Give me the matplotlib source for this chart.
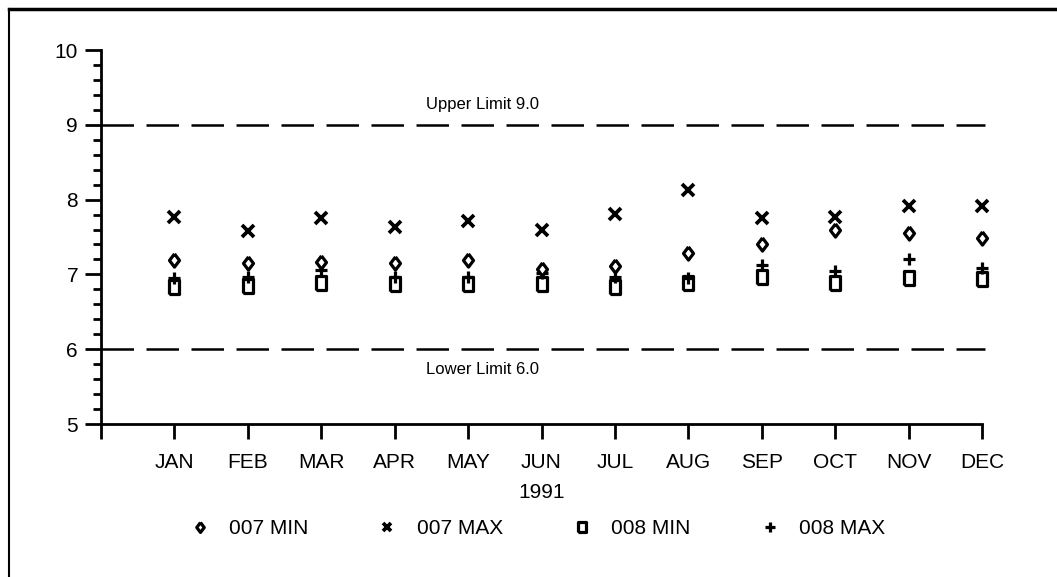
import matplotlib
matplotlib.use("Agg")
import matplotlib.pyplot as plt
from matplotlib.lines import Line2D
from matplotlib.ticker import MultipleLocator, FixedLocator

plt.rcParams['font.family'] = ['Liberation Sans', 'DejaVu Sans']

months = ['JAN', 'FEB', 'MAR', 'APR', 'MAY', 'JUN', 'JUL', 'AUG', 'SEP', 'OCT', 'NOV', 'DEC']
min007 = [7.19, 7.15, 7.16, 7.15, 7.19, 7.07, 7.11, 7.29, 7.41, 7.59, 7.56, 7.48]
max007 = [7.77, 7.58, 7.76, 7.63, 7.71, 7.60, 7.81, 8.13, 7.76, 7.77, 7.91, 7.91]
min008 = [6.83, 6.84, 6.89, 6.87, 6.87, 6.87, 6.83, 6.89, 6.96, 6.88, 6.95, 6.94]
max008 = [6.95, 6.97, 7.06, 6.97, 6.97, 7.02, 6.97, 6.95, 7.13, 7.04, 7.20, 7.08]
series_labels = ['007 MIN', '007 MAX', '008 MIN', '008 MAX']
upper_limit = 9.0
lower_limit = 6.0
year_label = '1991'

W, H = 1057, 577
fig = plt.figure(figsize=(W / 100, H / 100), dpi=100)
ax_left, ax_right, ax_top, ax_bottom = 101, 982, 50, 424
ax = fig.add_axes([ax_left / W, (H - ax_bottom) / H, (ax_right - ax_left) / W, (ax_bottom - ax_top) / H])

x = list(range(1, len(months) + 1))

diamond = [(0, 0.5), (0.38, 0), (0, -0.5), (-0.38, 0), (0, 0.5)]
rect = [(-0.36, -0.5), (0.36, -0.5), (0.36, 0.5), (-0.36, 0.5), (-0.36, -0.5)]

ax.plot(x, min008, linestyle='none', marker=rect, ms=9.5, mfc='white', mec='black', mew=2.3,
        label=series_labels[2], zorder=3, clip_on=False)
ax.plot(x, max008, linestyle='none', marker='+', ms=9, mec='black', mew=2.3,
        label=series_labels[3], zorder=4, clip_on=False)
ax.plot(x, min007, linestyle='none', marker=diamond, ms=9.5, mfc='white', mec='black', mew=2.3,
        label=series_labels[0], zorder=4, clip_on=False)
ax.plot(x, max007, linestyle='none', marker='x', ms=8.5, mec='black', mew=2.7,
        label=series_labels[1], zorder=4, clip_on=False)

dash = (0, (13, 5))
ax.plot([0, 12.04], [upper_limit, upper_limit], color='black', lw=1.8, linestyle=dash, clip_on=False, zorder=2)
ax.plot([0, 12.04], [lower_limit, lower_limit], color='black', lw=1.8, linestyle=dash, clip_on=False, zorder=2)
ax.text(5.2, upper_limit + 0.27, f'Upper Limit {upper_limit:.1f}', ha='center', va='center', fontsize=12)
ax.text(5.2, lower_limit - 0.27, f'Lower Limit {lower_limit:.1f}', ha='center', va='center', fontsize=12)

ax.set_xlim(0, 12)
ax.set_ylim(5, 10)
for s in ['top', 'right']:
    ax.spines[s].set_visible(False)
for s in ['left', 'bottom']:
    ax.spines[s].set_linewidth(2.0)

ax.xaxis.set_major_locator(FixedLocator(list(range(0, 13))))
ax.set_xticklabels([''] + months)
ax.yaxis.set_major_locator(MultipleLocator(1))
ax.yaxis.set_minor_locator(MultipleLocator(0.2))
ax.tick_params(axis='x', direction='out', length=11, width=2, pad=10, labelsize=15)
ax.tick_params(axis='y', which='major', direction='out', length=11.5, width=2, pad=5, labelsize=15)
ax.tick_params(axis='y', which='minor', direction='out', length=5.5, width=2)
ax.set_xlabel(year_label, fontsize=15, labelpad=8)

handles, labels = ax.get_legend_handles_labels()
order = [2, 3, 0, 1]
leg = ax.legend([handles[i] for i in order], [labels[i] for i in order], ncol=4, loc='center',
                bbox_to_anchor=(0.495, -0.28), frameon=False, fontsize=15, markerscale=0.75,
                handlelength=1.0, handletextpad=0.9, columnspacing=3.3)

# outer frame lines
fig.add_artist(Line2D([9 / W, 1.0], [1 - 9 / H, 1 - 9 / H], color='black', lw=2.5))
fig.add_artist(Line2D([9 / W, 9 / W], [0, 1 - 9 / H], color='black', lw=1.5))

fig.savefig('out.png', dpi=100, facecolor='white')
